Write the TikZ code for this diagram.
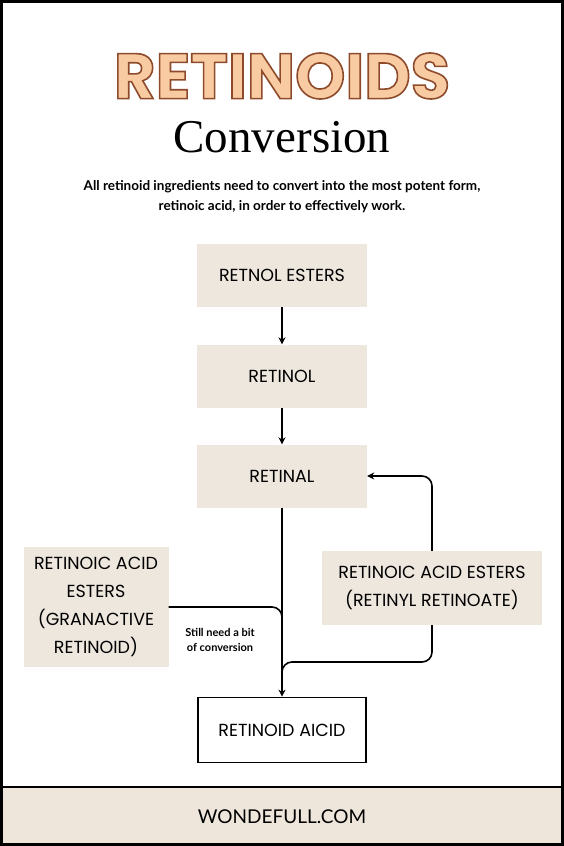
\documentclass[tikz,border=0pt]{standalone}
\usepackage{fontspec}
\setmainfont{Lato}
\newfontfamily\boxfont{Poppins}
\newfontfamily\headfont{Liberation Serif}
\usetikzlibrary{positioning,arrows.meta,calc}
\definecolor{boxbg}{HTML}{EEE7DE}
\definecolor{footbg}{HTML}{EFE6DB}
\definecolor{peach}{HTML}{F8CBA2}
\definecolor{rust}{HTML}{8E4B2C}
% outlined letters: fill with the current colour, stroke in rust
\newcommand{\outlined}[1]{\special{pdf:literal 0.557 0.294 0.173 RG 1.6 w 2 Tr}#1\special{pdf:literal 0 Tr}}
\tikzset{
  box/.style={fill=boxbg, minimum width=170pt, minimum height=63pt, align=center,
    font=\boxfont\fontsize{17.5}{28}\selectfont},
  arr/.style={-{Stealth[length=7pt,width=7pt]}, line width=1.6pt, rounded corners=10pt},
  link/.style={line width=1.6pt, rounded corners=10pt}
}
\begin{document}
\begin{tikzpicture}[x=1pt,y=-1pt]
  \useasboundingbox (0,0) rectangle (564,846);
  \fill[footbg] (0,787) rectangle (564,846);
  \draw[line width=2pt] (0,787) -- (564,787);
  \draw[line width=3pt] (1.5,1.5) rectangle (562.5,844.5);

  % title
  \node[inner sep=0pt, text=peach, font=\boxfont\bfseries\fontsize{64}{64}\selectfont] (title) at (282,76) {\outlined{RETINOIDS}};
  \node[inner sep=0pt, font=\headfont\fontsize{47}{47}\selectfont] (conv) at (282,137) {Conversion};
  \node[font=\bfseries\fontsize{13.5}{20}\selectfont, align=center] (intro) at (282,197)
    {All retinoid ingredients need to convert into the most potent form,\\ retinoic acid, in order to effectively work.};

  \node[box] (esters) at (282,275) {RETNOL ESTERS};
  \node[box] (retinol) at (282,376) {RETINOL};
  \node[box] (retinal) at (282,476) {RETINAL};
  \node[box, minimum width=145pt, minimum height=120pt] (granactive) at (96,607)
    {RETINOIC ACID\\ESTERS\\(GRANACTIVE\\RETINOID)};
  \node[box, minimum width=220pt, minimum height=74pt] (retinyl) at (432,588)
    {RETINOIC ACID ESTERS\\(RETINYL RETINOATE)};
  \node[box, fill=white, draw, line width=1.6pt, minimum width=168pt, minimum height=65pt] (acid) at (282,730)
    {RETINOID AICID};
  \node[font=\bfseries\fontsize{11}{14.5}\selectfont, align=center] (note) at (220,640)
    {Still need a bit\\of conversion};
  \node[font=\fontsize{19}{19}\selectfont] (site) at (282,817) {WONDEFULL.COM};

  \draw[arr] (esters) -- (retinol);
  \draw[arr] (retinol) -- (retinal);
  \draw[arr] (retinal) -- (acid);
  \draw[link] (granactive.east) -- (granactive.east -| acid.north) -- ++(0,25);
  \coordinate (join) at (432,662);
  \draw[link] (retinyl.south) -- (join) -- (join -| acid.north) -- ++(0,25);
  \draw[arr] (retinyl.north) |- (retinal.east);
\end{tikzpicture}
\end{document}
